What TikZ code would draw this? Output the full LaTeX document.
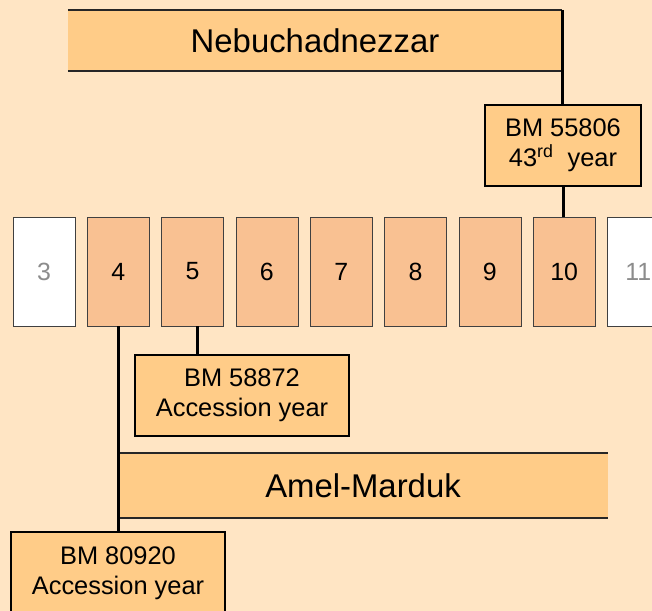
\documentclass[tikz,border=0pt]{standalone}
\usepackage{fontspec}
\setmainfont{Liberation Sans}
\usetikzlibrary{positioning}

\definecolor{pagebg}{RGB}{255,229,196}
\definecolor{barfill}{RGB}{255,204,136}
\definecolor{yearfill}{RGB}{249,193,146}

\tikzset{
  yearbox/.style={draw=black!75, fill=yearfill, minimum width=62bp, minimum height=109bp,
    inner sep=0pt, font=\fontsize{25}{30}\selectfont},
  outyear/.style={yearbox, fill=white, text=black!45},
  tabletbox/.style={draw=black, line width=1.2bp, fill=barfill, align=center, inner sep=0pt,
    font=\fontsize{25.5}{30}\selectfont},
  reignbar/.style={fill=barfill, inner sep=0pt, font=\fontsize{33}{40}\selectfont},
  barline/.style={line width=2bp, black!85},
  link/.style={line width=3bp, black}
}

\begin{document}
\begin{tikzpicture}[x=1bp, y=-1bp]
    \useasboundingbox (0,0) rectangle (652,611);
    \clip (0,0) rectangle (652,611);
    \fill[pagebg] (0,0) rectangle (652,611);

    % regnal years
    \node[outyear] (y3) at (44,271.5) {3};
    \foreach \yr [count=\k from 1] in {4,...,10}
        \node[yearbox] (y\yr) at ({44+74.3*\k},271.5) {\yr};
    \node[outyear] (y11) at ({44+74.3*8},271.5) {11};

    % reigns
    \node[reignbar, minimum width=494bp, minimum height=61bp] (neb) at (315,40.5) {Nebuchadnezzar};
    \node[reignbar, minimum width=490bp, minimum height=65bp] (amel) at (363,485.5) {Amel-Marduk};
    \draw[barline] (neb.north west) -- (neb.north east);
    \draw[barline] (neb.south west) -- (neb.south east);
    \draw[barline] (amel.north west) -- (amel.north east);
    \draw[barline] (amel.south west) -- (amel.south east);

    % tablets
    \node[tabletbox, minimum width=156bp, minimum height=81bp] (bm55806) at (563,145.5)
        {BM 55806\\43\textsuperscript{rd}~ year};
    \node[tabletbox, minimum width=214bp, minimum height=81bp] (bm58872) at (242,395.5)
        {BM 58872\\Accession year};
    \node[tabletbox, minimum width=214bp, minimum height=82bp] (bm80920) at (118,573)
        {BM 80920\\Accession year};

    % links
    \draw[link] (neb.north east) -- (neb.north east |- bm55806.north);
    \draw[link] (bm55806.south) -- (bm55806.south |- y10.north);
    \draw[link] (y4.south) -- (y4.south |- bm80920.north);
    \draw[link] ([xshift=5bp]y5.south) -- ([xshift=5bp]y5.south |- bm58872.north);
\end{tikzpicture}
\end{document}
